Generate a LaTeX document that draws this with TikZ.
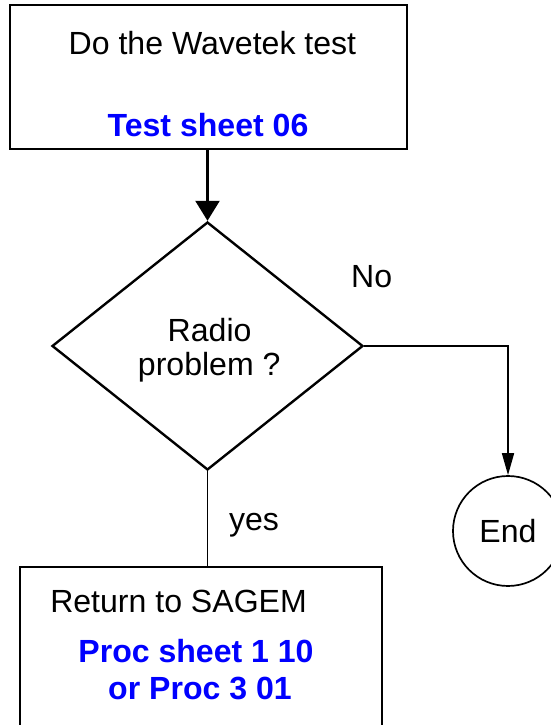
\documentclass[tikz,border=0pt]{standalone}
\usepackage{fontspec}
\setmainfont{Liberation Sans}
\usepackage{tikz}
\usetikzlibrary{shapes.geometric,arrows.meta,calc}
\definecolor{sheetblue}{RGB}{0,0,255}
\tikzset{
    every node/.append style={font=\fontsize{22.8pt}{27pt}\selectfont},
    label/.style={anchor=base,inner sep=0pt},
    sheet/.style={label,text=sheetblue,font=\fontsize{22.8pt}{27pt}\selectfont\bfseries},
    thick box/.style={draw,line width=1.7pt,inner sep=0pt},
    bigarrow/.style={line width=1.7pt,arrows={-Triangle[length=0.5cm,width=0.6cm]}},
    smallarrow/.style={line width=1.2pt,arrows={-Triangle[length=0.55cm,width=0.3cm]}}
}

\begin{document}
\begin{tikzpicture}
        \useasboundingbox (0,0) rectangle (13.775,18.125);
        \clip (0,0) rectangle (13.775,18.125);
        % boxes
        \node[thick box] (wavetek) at (5.2125,16.2)[minimum width=9.925cm,minimum height=3.6cm] {};
        \node[thick box,diamond] (radio) at (5.1875,9.475)[minimum width=7.775cm,minimum height=6.2cm] {};
        \node[circle,draw,line width=1.2pt] (end) at (12.7,4.85)[minimum size=2.75cm] {End};
        \node[thick box] (sagem) at (5.025,1.725)[minimum width=9.05cm,minimum height=4.45cm] {};
        % texts
        \node[label] (dotest) at (5.31,16.75) {Do the Wavetek test};
        \node[sheet] (sheet06) at (5.2,14.7) {Test sheet 06};
        \node[label] (radiotxt) at (5.24,9.58) {Radio};
        \node[label] (problemtxt) at (5.23,8.73) {problem ?};
        \node[label] (no) at (9.29,10.93) {No};
        \node[label] (yes) at (6.35,4.85) {yes};
        \node[label,anchor=base west] (return) at (1.25,2.8) {Return to SAGEM};
        \node[sheet] (proc1) at (4.9,1.55) {Proc sheet 1 10};
        \node[sheet] (proc2) at (5.0,0.65) {or Proc 3 01};
        % connectors
        \draw[bigarrow] (radio.north |- wavetek.south) -- (radio.north);
        \draw[smallarrow] (radio.east) -| (end.north);
        \draw[line width=1.2pt] (radio.south) -- (radio.south |- sagem.north);
    \end{tikzpicture}
\end{document}
